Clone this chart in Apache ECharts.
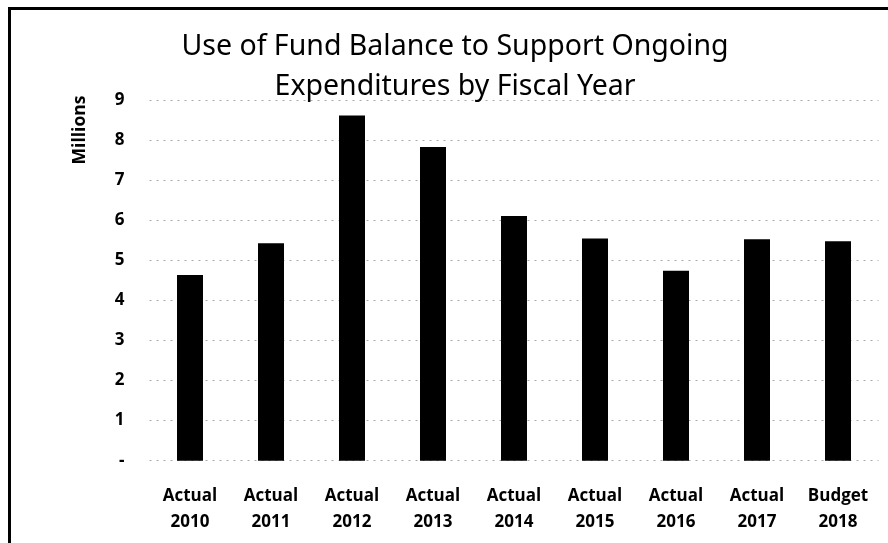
<!DOCTYPE html>
<html><head><meta charset="utf-8">
<script src="https://cdn.jsdelivr.net/npm/echarts@6/dist/echarts.min.js"></script>
<style>html,body{margin:0;padding:0;background:#fff}#c{width:888px;height:543px}</style>
</head><body><div id="c"></div>
<script>
const categories = ['Actual\n2010','Actual\n2011','Actual\n2012','Actual\n2013','Actual\n2014','Actual\n2015','Actual\n2016','Actual\n2017','Budget\n2018'];
const values = [4.63, 5.42, 8.61, 7.82, 6.10, 5.54, 4.74, 5.52, 5.47];
const titleLines = ['Use of Fund Balance to Support Ongoing', 'Expenditures by Fiscal Year'];
const yAxisName = 'Millions';

const chart = echarts.init(document.getElementById('c'), null, {renderer:'canvas'});
chart.setOption({
  animation:false,
  backgroundColor:'#fff',
  title:{text:titleLines.join('\n'), left:450, top:22, textAlign:'center',
    textStyle:{fontFamily:'Noto Sans', fontWeight:'normal', fontSize:28.5, color:'#000', lineHeight:40}},
  grid:{left:149.5, right:9.5, top:99.8, bottom:82.3},
  xAxis:{type:'category', data:categories,
    axisLine:{show:false}, axisTick:{show:false},
    axisLabel:{color:'#000', fontWeight:'bold', fontSize:17, fontFamily:'Open Sans', lineHeight:26, margin:22}},
  yAxis:{type:'value', min:0, max:9, interval:1,
    axisLine:{show:false}, axisTick:{show:false},
    axisLabel:{color:'#000', fontWeight:'bold', fontSize:17, fontFamily:'Open Sans', margin:25,
      formatter:v => v === 0 ? '-' : String(v)},
    splitLine:{lineStyle:{color:'#a8a8a8', type:[2,5], width:1}}},
  series:[{type:'bar', data:values, barWidth:26, itemStyle:{color:'#000'}}],
  graphic:[
    {type:'rect', shape:{x:9.5, y:8.5, width:900, height:600}, style:{fill:null, stroke:'#000', lineWidth:3}, z:-1},
    {type:'text', x:80, y:130, rotation:Math.PI/2, style:{text:yAxisName, fontFamily:'Open Sans', fontWeight:'bold', fontSize:17.5, fill:'#000', align:'center', verticalAlign:'middle'}}
  ]
});
</script></body></html>
